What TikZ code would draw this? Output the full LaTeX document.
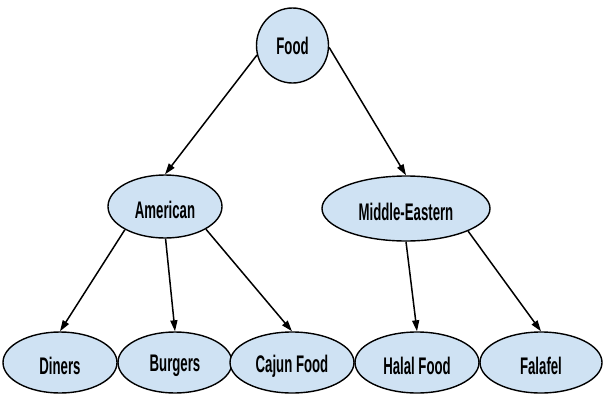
\documentclass[tikz,border=0pt]{standalone}
\usepackage{fontspec}
\newfontfamily\lblfont[FakeStretch=0.55]{Liberation Sans Bold}
\usetikzlibrary{shapes.geometric,arrows.meta}
\definecolor{nodefill}{HTML}{CFE2F3}
\newcommand{\lowtxt}[1]{\raisebox{-3.5pt}[\height][\depth]{#1}}
\tikzset{
  blob/.style={ellipse, draw=black, line width=1.4pt, fill=nodefill, inner sep=0pt,
    font=\lblfont\fontsize{24}{27}\selectfont, text=black},
  link/.style={draw=black, line width=1.5pt, -{Triangle[length=11pt,width=7pt]}}
}
\begin{document}
\begin{tikzpicture}[x=1pt,y=-1pt]
\useasboundingbox (0,0) rectangle (603,397);
\node[blob, minimum width=72, minimum height=75] (food) at (292.5,45.5) {Food};
\node[blob, minimum width=114, minimum height=63] (american) at (165,206.5) {\lowtxt{American}};
\node[blob, minimum width=168, minimum height=65] (mideast) at (406,208.5) {\lowtxt{Middle-Eastern}};
\node[blob, minimum width=114, minimum height=61] (diners) at (60,362.5) {\lowtxt{Diners}};
\node[blob, minimum width=114, minimum height=61] (burgers) at (175,362.5) {\lowtxt{Burgers}};
\node[blob, minimum width=124, minimum height=61] (cajun) at (292,362.5) {\lowtxt{Cajun Food}};
\node[blob, minimum width=124, minimum height=61] (halal) at (417,362.5) {\lowtxt{Halal Food}};
\node[blob, minimum width=122, minimum height=61] (falafel) at (541,362.5) {\lowtxt{Falafel}};
\draw[link] (food.195) -- (american.north);
\draw[link] (food.-3) -- (mideast.north);
\draw[link] (american.210) -- (diners.north);
\draw[link] (american.271) -- (burgers.north);
\draw[link] (american.331) -- (cajun.north);
\draw[link] (mideast.270) -- (halal.north);
\draw[link] (mideast.-20) -- (falafel.north);
\end{tikzpicture}
\end{document}
